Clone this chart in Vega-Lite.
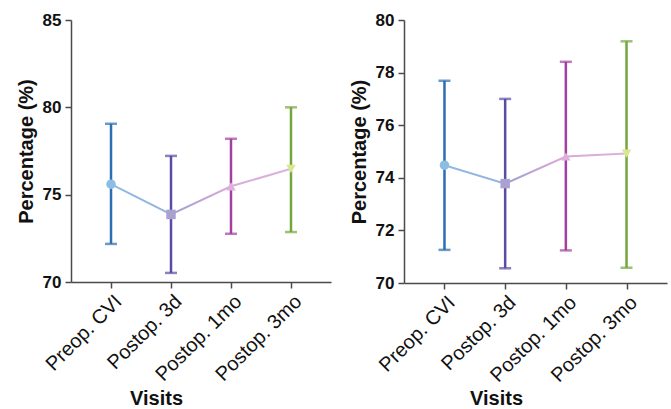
{
  "$schema": "https://vega.github.io/schema/vega-lite/v6.json",
  "padding": {"left": 16, "top": 11, "right": 2, "bottom": 0},
  "config": {
    "font": "Liberation Sans",
    "view": {"stroke": null},
    "concat": {"spacing": 18},
    "axis": {
      "grid": false,
      "domainColor": "#4a4a4a",
      "domainWidth": 1.5,
      "tickColor": "#4a4a4a",
      "tickWidth": 1.5,
      "tickSize": 6,
      "labelColor": "#111111",
      "titleColor": "#111111",
      "titleFontSize": 20,
      "titleFontWeight": "bold"
    },
    "axisX": {"labelFontSize": 20, "labelFontWeight": "normal", "labelAngle": -45, "labelPadding": 3, "titleBaseline": "top"},
    "axisY": {"labelFontSize": 17, "labelFontWeight": "bold", "labelPadding": 4, "titlePadding": 6}
  },
  "data": {
    "values": [
      {"panel": "A", "visit": "Preop. CVI", "mean": 75.6, "lo": 72.18, "hi": 79.06},
      {"panel": "A", "visit": "Postop. 3d", "mean": 73.87, "lo": 70.52, "hi": 77.22},
      {"panel": "A", "visit": "Postop. 1mo", "mean": 75.48, "lo": 72.76, "hi": 78.2},
      {"panel": "A", "visit": "Postop. 3mo", "mean": 76.48, "lo": 72.86, "hi": 80.0},
      {"panel": "B", "visit": "Preop. CVI", "mean": 74.48, "lo": 71.26, "hi": 77.69},
      {"panel": "B", "visit": "Postop. 3d", "mean": 73.78, "lo": 70.56, "hi": 77.0},
      {"panel": "B", "visit": "Postop. 1mo", "mean": 74.81, "lo": 71.24, "hi": 78.41},
      {"panel": "B", "visit": "Postop. 3mo", "mean": 74.92, "lo": 70.58, "hi": 79.19}
    ]
  },
  "hconcat": [
    {
      "width": 260,
      "height": 262,
      "transform": [{"filter": "datum.panel == 'A'"}],
      "encoding": {
        "x": {
          "field": "visit", "type": "ordinal",
          "sort": ["Preop. CVI", "Postop. 3d", "Postop. 1mo", "Postop. 3mo"],
          "scale": {"type": "point", "padding": 0.667},
          "axis": {"title": "Visits", "titleX": 85, "titleY": 106}
        }
      },
      "layer": [
        {
          "mark": {"type": "rule", "strokeWidth": 2.5},
          "encoding": {
            "y": {"field": "lo", "type": "quantitative", "scale": {"domain": [70, 85], "nice": false, "zero": false},
              "axis": {"values": [70, 75, 80, 85], "title": "Percentage (%)"}},
            "y2": {"field": "hi"},
            "color": {"field": "visit", "type": "nominal",
              "scale": {"domain": ["Preop. CVI", "Postop. 3d", "Postop. 1mo", "Postop. 3mo"], "range": ["#2c6db4", "#5a4ba5", "#a23f9f", "#73a63c"]}, "legend": null}
          }
        },
        {
          "mark": {"type": "tick", "thickness": 2.5, "size": 12},
          "encoding": {
            "y": {"field": "hi", "type": "quantitative"},
            "color": {"field": "visit", "type": "nominal", "legend": null}
          }
        },
        {
          "mark": {"type": "tick", "thickness": 2.5, "size": 12},
          "encoding": {
            "y": {"field": "lo", "type": "quantitative"},
            "color": {"field": "visit", "type": "nominal", "legend": null}
          }
        },
        {
          "mark": {"type": "line", "strokeWidth": 2,
            "color": {"gradient": "linear", "x1": 0, "x2": 1, "y1": 0, "y2": 0,
              "stops": [{"offset": 0, "color": "#8cbbe3"}, {"offset": 0.3, "color": "#96b3e0"}, {"offset": 0.38, "color": "#a6a0d3"}, {"offset": 0.62, "color": "#d7a9d9"}, {"offset": 1, "color": "#ddb3dd"}]}},
          "encoding": {
            "y": {"field": "mean", "type": "quantitative"}
          }
        },
        {
          "mark": {"type": "point", "filled": true, "opacity": 1, "size": 90},
          "encoding": {
            "y": {"field": "mean", "type": "quantitative"},
            "fill": {"field": "visit", "type": "nominal",
              "scale": {"domain": ["Preop. CVI", "Postop. 3d", "Postop. 1mo", "Postop. 3mo"], "range": ["#8cbde2", "#a9a2d1", "#ddb0dc", "#d9e78e"]}, "legend": null},
            "shape": {"field": "visit", "type": "nominal",
              "scale": {"domain": ["Preop. CVI", "Postop. 3d", "Postop. 1mo", "Postop. 3mo"], "range": ["circle", "square", "triangle-up", "triangle-down"]}, "legend": null}
          }
        }
      ]
    },
    {
      "width": 263,
      "height": 263,
      "transform": [{"filter": "datum.panel == 'B'"}],
      "encoding": {
        "x": {
          "field": "visit", "type": "ordinal",
          "sort": ["Preop. CVI", "Postop. 3d", "Postop. 1mo", "Postop. 3mo"],
          "scale": {"type": "point", "padding": 0.667},
          "axis": {"title": "Visits", "titleX": 92, "titleY": 105}
        }
      },
      "layer": [
        {
          "mark": {"type": "rule", "strokeWidth": 2.5},
          "encoding": {
            "y": {"field": "lo", "type": "quantitative", "scale": {"domain": [70, 80], "nice": false, "zero": false},
              "axis": {"values": [70, 72, 74, 76, 78, 80], "title": "Percentage (%)"}},
            "y2": {"field": "hi"},
            "color": {"field": "visit", "type": "nominal",
              "scale": {"domain": ["Preop. CVI", "Postop. 3d", "Postop. 1mo", "Postop. 3mo"], "range": ["#2c6db4", "#5a4ba5", "#a23f9f", "#73a63c"]}, "legend": null}
          }
        },
        {
          "mark": {"type": "tick", "thickness": 2.5, "size": 12},
          "encoding": {
            "y": {"field": "hi", "type": "quantitative"},
            "color": {"field": "visit", "type": "nominal", "legend": null}
          }
        },
        {
          "mark": {"type": "tick", "thickness": 2.5, "size": 12},
          "encoding": {
            "y": {"field": "lo", "type": "quantitative"},
            "color": {"field": "visit", "type": "nominal", "legend": null}
          }
        },
        {
          "mark": {"type": "line", "strokeWidth": 2,
            "color": {"gradient": "linear", "x1": 0, "x2": 1, "y1": 0, "y2": 0,
              "stops": [{"offset": 0, "color": "#8cbbe3"}, {"offset": 0.3, "color": "#96b3e0"}, {"offset": 0.38, "color": "#a6a0d3"}, {"offset": 0.62, "color": "#d7a9d9"}, {"offset": 1, "color": "#ddb3dd"}]}},
          "encoding": {
            "y": {"field": "mean", "type": "quantitative"}
          }
        },
        {
          "mark": {"type": "point", "filled": true, "opacity": 1, "size": 90},
          "encoding": {
            "y": {"field": "mean", "type": "quantitative"},
            "fill": {"field": "visit", "type": "nominal",
              "scale": {"domain": ["Preop. CVI", "Postop. 3d", "Postop. 1mo", "Postop. 3mo"], "range": ["#8cbde2", "#a9a2d1", "#ddb0dc", "#d9e78e"]}, "legend": null},
            "shape": {"field": "visit", "type": "nominal",
              "scale": {"domain": ["Preop. CVI", "Postop. 3d", "Postop. 1mo", "Postop. 3mo"], "range": ["circle", "square", "triangle-up", "triangle-down"]}, "legend": null}
          }
        }
      ]
    }
  ]
}
